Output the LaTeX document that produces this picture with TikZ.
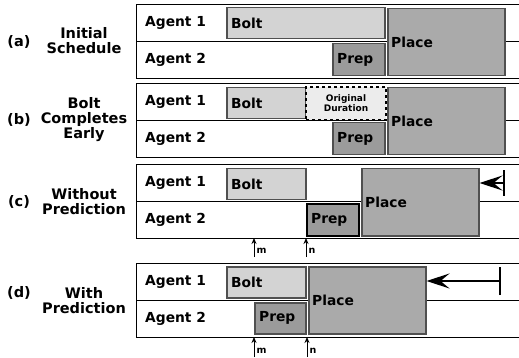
\documentclass[tikz,border=0pt]{standalone}
\usepackage{fontspec}
\setmainfont{DejaVu Sans}
\usetikzlibrary{arrows.meta}
\definecolor{boltc}{RGB}{211,211,211}
\definecolor{prepc}{RGB}{155,155,155}
\definecolor{placec}{RGB}{170,170,170}
\definecolor{origc}{RGB}{236,236,236}
\definecolor{bordc}{RGB}{80,80,80}
\tikzset{
  lane/.style={draw=black, line width=1.4pt, fill=white, inner sep=0pt, anchor=north west, minimum width=390pt, minimum height=37pt},
  task/.style={draw=bordc, line width=1.5pt, inner sep=0pt, anchor=north west},
  lbl/.style={font=\fontsize{13.8}{15}\selectfont\bfseries, inner sep=0pt, anchor=west},
  side/.style={font=\fontsize{14.5}{15}\selectfont\bfseries, inner sep=0pt, align=center},
  small/.style={font=\fontsize{9}{10}\selectfont\bfseries, inner sep=0pt, align=center},
  mk/.style={font=\fontsize{9.5}{10}\selectfont\bfseries, inner sep=0pt, anchor=west},
  marker/.style={-{Stealth[length=6pt,width=5pt]}, line width=1pt},
  dead/.style={-{Stealth[length=23pt,width=15pt,inset=9pt]}, line width=2pt},
  bar/.style={line width=2pt}
}
\begin{document}
\begin{tikzpicture}[x=1pt,y=-1pt]
\useasboundingbox (0,0) rectangle (519,358);
% side labels
\node[side] (la) at (19,42) {(a)};
\node[side] (ta) at (84,41) {Initial\\Schedule};
\node[side] (lb) at (19,120) {(b)};
\node[side] (tb) at (84,120) {Bolt\\Completes\\Early};
\node[side] (lc) at (19,202) {(c)};
\node[side] (tc) at (84,202) {Without\\Prediction};
\node[side] (ld) at (19,293) {(d)};
\node[side] (td) at (84,301) {With\\Prediction};
% lanes
\foreach \n/\y in {a/4,b/83,c/164,d/263}{
  \node[lane] (\n1) at (136,\y) {};
  \node[lane] (\n2) at (136,\y+37) {};
  \node[lbl] at ([xshift=9pt]\n1.west) {Agent 1};
  \node[lbl] at ([xshift=9pt]\n2.west) {Agent 2};
}
% (a)
\node[task, fill=boltc, minimum width=158pt, minimum height=31pt] (aBolt) at (226,7) {};
\node[lbl] at ([xshift=5pt]aBolt.west) {Bolt};
\node[task, fill=prepc, minimum width=52pt, minimum height=32pt] (aPrep) at (332,43) {};
\node[lbl] at ([xshift=5pt]aPrep.west) {Prep};
\node[task, fill=placec, minimum width=117pt, minimum height=67pt] (aPlace) at (387,8) {};
\node[lbl] at ([xshift=4pt]aPlace.west) {Place};
% (b)
\node[task, fill=boltc, minimum width=79pt, minimum height=31pt] (bBolt) at (226,87) {};
\node[lbl] at ([xshift=5pt]bBolt.west) {Bolt};
\node[task, fill=origc, draw=black, line width=2pt, dash pattern=on 3pt off 3pt, minimum width=80pt, minimum height=33pt] (bOrig) at (305,86) {};
\node[small] at (bOrig.center) {Original\\Duration};
\node[task, fill=prepc, minimum width=52pt, minimum height=32pt] (bPrep) at (332,122) {};
\node[lbl] at ([xshift=5pt]bPrep.west) {Prep};
\node[task, fill=placec, minimum width=117pt, minimum height=67pt] (bPlace) at (387,87) {};
\node[lbl] at ([xshift=4pt]bPlace.west) {Place};
% (c)
\node[task, fill=boltc, minimum width=79pt, minimum height=31pt] (cBolt) at (226,168) {};
\node[lbl] at ([xshift=5pt]cBolt.west) {Bolt};
\node[task, fill=prepc, draw=black, line width=2pt, minimum width=52pt, minimum height=32pt] (cPrep) at (306,203) {};
\node[lbl] at ([xshift=5pt]cPrep.west) {Prep};
\node[task, fill=placec, minimum width=117pt, minimum height=67pt] (cPlace) at (361,168) {};
\node[lbl] at ([xshift=4pt]cPlace.west) {Place};
\coordinate (cBar) at (504,183);
\draw[bar] ([yshift=-13pt]cBar) -- ([yshift=13pt]cBar);
\draw[dead] (cBar) -- (cPlace.east |- cBar);
\coordinate (cm0) at (254,257);
\coordinate (cm1) at (254,238);
\coordinate (cn0) at (306,257);
\coordinate (cn1) at (306,238);
\draw[marker] (cm0) -- (cm1);
\draw[marker] (cn0) -- (cn1);
\node[mk] at (256.5,251) {m};
\node[mk] at (308.5,251) {n};
% (d)
\node[task, fill=boltc, minimum width=79pt, minimum height=31pt] (dBolt) at (226,266) {};
\node[lbl] at ([xshift=5pt]dBolt.west) {Bolt};
\node[task, fill=prepc, minimum width=51pt, minimum height=31pt] (dPrep) at (254,302) {};
\node[lbl] at ([xshift=5pt]dPrep.west) {Prep};
\node[task, fill=placec, minimum width=117pt, minimum height=67pt] (dPlace) at (308,266) {};
\node[lbl] at ([xshift=4pt]dPlace.west) {Place};
\coordinate (dBar) at (500,281);
\draw[bar] ([yshift=-14pt]dBar) -- ([yshift=14pt]dBar);
\draw[dead] (dBar) -- (dPlace.east |- dBar);
\coordinate (dm0) at (254,357);
\coordinate (dm1) at (254,337);
\coordinate (dn0) at (307,357);
\coordinate (dn1) at (307,337);
\draw[marker] (dm0) -- (dm1);
\draw[marker] (dn0) -- (dn1);
\node[mk] at (256.5,351) {m};
\node[mk] at (309.5,351) {n};
\end{tikzpicture}
\end{document}
